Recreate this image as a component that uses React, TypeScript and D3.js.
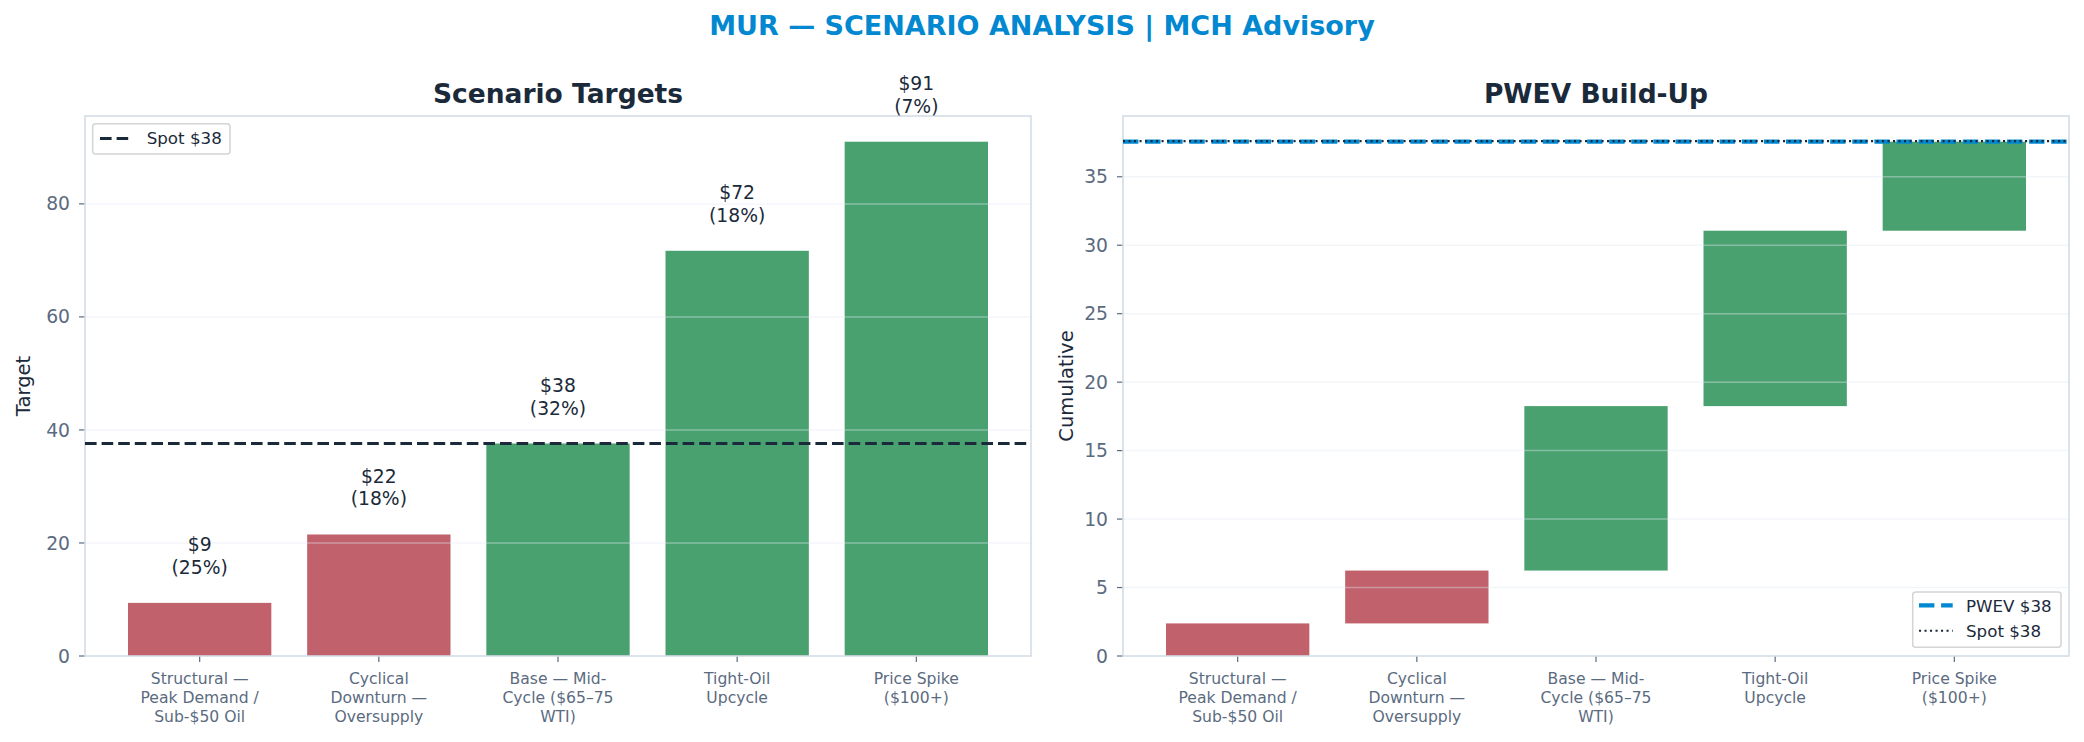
import { useEffect, useRef } from 'react';
import * as d3 from 'd3';

// scenario names, wrapped as they appear under the bars
const scenarioKeys = ['Structural', 'Cyclical', 'Base', 'Tight-Oil', 'Price Spike'];
const scenarioLines = [
  ['Structural —', 'Peak Demand /', 'Sub-$50 Oil'],
  ['Cyclical', 'Downturn —', 'Oversupply'],
  ['Base — Mid-', 'Cycle ($65–75', 'WTI)'],
  ['Tight-Oil', 'Upcycle'],
  ['Price Spike', '($100+)'],
];
const targets = [9.4, 21.5, 37.6, 71.7, 91.0];
const probabilities = [0.25, 0.18, 0.32, 0.18, 0.07];
// probability-weighted contribution of each scenario to PWEV
const contributions = [2.38, 3.86, 12.01, 12.81, 6.5];
const spot = 37.6;
const targetTicks = [0, 20, 40, 60, 80];
const cumulativeTicks = [0, 5, 10, 15, 20, 25, 30, 35];

const W = 2084, H = 742;
const RED = '#c0616b', GREEN = '#4aa170', INK = '#1b2a3a', SLATE = '#5b6b7f', SPINE = '#d5dce6', BLUE = '#0288d1';
const FONT = 'DejaVu Sans, sans-serif';

type Sel = d3.Selection<SVGGElement, unknown, null, undefined>;

function frame(g: Sel, o: { left: number; right: number; top: number; bottom: number; yMax: number; ticks: number[]; title: string; yLabel: string; yLabelX: number }) {
  const x = d3.scaleBand<string>().domain(scenarioKeys).range([o.left, o.right]).paddingInner(0.2).paddingOuter(0.24);
  const y = d3.scaleLinear().domain([0, o.yMax]).range([o.bottom, o.top]);
  g.append('text').attr('x', (o.left + o.right) / 2).attr('y', o.top - 13).attr('text-anchor', 'middle')
    .attr('font-family', FONT).attr('font-weight', 'bold').attr('font-size', 26.5).attr('fill', INK).text(o.title);
  g.append('text').attr('transform', `translate(${o.yLabelX},${(o.top + o.bottom) / 2}) rotate(-90)`).attr('text-anchor', 'middle')
    .attr('font-family', FONT).attr('font-size', 19.5).attr('fill', INK).text(o.yLabel);
  // y ticks
  const yt = g.append('g');
  yt.selectAll('line').data(o.ticks).enter().append('line')
    .attr('x1', o.left - 6).attr('x2', o.left).attr('y1', (d) => y(d)).attr('y2', (d) => y(d)).attr('stroke', SLATE).attr('stroke-width', 1.2);
  yt.selectAll('text').data(o.ticks).enter().append('text')
    .attr('x', o.left - 15).attr('y', (d) => y(d)).attr('dy', '0.35em').attr('text-anchor', 'end')
    .attr('font-family', FONT).attr('font-size', 18.75).attr('fill', SLATE).text((d) => d);
  // x ticks
  const xt = g.append('g');
  xt.selectAll('line').data(scenarioKeys).enter().append('line')
    .attr('x1', (d) => x(d)! + x.bandwidth() / 2).attr('x2', (d) => x(d)! + x.bandwidth() / 2)
    .attr('y1', o.bottom).attr('y2', o.bottom + 6).attr('stroke', SLATE).attr('stroke-width', 1.2);
  scenarioKeys.forEach((k, i) => {
    const t = xt.append('text').attr('text-anchor', 'middle').attr('font-family', FONT).attr('font-size', 15.6).attr('fill', SLATE);
    scenarioLines[i].forEach((ln, j) => t.append('tspan').attr('x', x(k)! + x.bandwidth() / 2).attr('y', o.bottom + 28 + j * 19).text(ln));
  });
  return { x, y };
}

function finish(g: Sel, o: { left: number; right: number; top: number; bottom: number; ticks: number[] }, y: d3.ScaleLinear<number, number>) {
  g.append('g').selectAll('line').data(o.ticks.filter((d) => d > 0)).enter().append('line')
    .attr('x1', o.left).attr('x2', o.right).attr('y1', (d) => y(d)).attr('y2', (d) => y(d))
    .attr('stroke', '#e2e8f0').attr('stroke-opacity', 0.4).attr('stroke-width', 1.5);
  g.append('rect').attr('x', o.left).attr('y', o.top).attr('width', o.right - o.left).attr('height', o.bottom - o.top)
    .attr('fill', 'none').attr('stroke', SPINE).attr('stroke-width', 1.6);
}

export default function App() {
  const ref = useRef<SVGSVGElement | null>(null);
  useEffect(() => {
    document.body.style.margin = '0';
    const svg = d3.select(ref.current!);
    svg.selectAll('*').remove();
    svg.append('rect').attr('width', W).attr('height', H).attr('fill', 'white');
    svg.append('text').attr('x', W / 2).attr('y', 35).attr('text-anchor', 'middle').attr('font-family', FONT)
      .attr('font-weight', 'bold').attr('font-size', 27).attr('fill', BLUE).text('MUR — SCENARIO ANALYSIS | MCH Advisory');

    // left: scenario targets
    const L = { left: 85, right: 1031, top: 116, bottom: 656, ticks: targetTicks };
    const gl = svg.append('g') as unknown as Sel;
    const { x: xl, y: yl } = frame(gl, { ...L, yMax: (d3.max(targets) ?? 1) * 1.05, title: 'Scenario Targets', yLabel: 'Target', yLabelX: 30 });
    gl.append('g').selectAll('rect').data(targets).enter().append('rect')
      .attr('x', (_, i) => xl(scenarioKeys[i])!).attr('width', xl.bandwidth())
      .attr('y', (d) => yl(d)).attr('height', (d) => yl(0) - yl(d)).attr('fill', (d) => (d < spot ? RED : GREEN));
    finish(gl, L, yl);
    targets.forEach((v, i) => {
      const t = gl.append('text').attr('text-anchor', 'middle').attr('font-family', FONT).attr('font-size', 18.75).attr('fill', INK);
      const cx = xl(scenarioKeys[i])! + xl.bandwidth() / 2;
      t.append('tspan').attr('x', cx).attr('y', yl(v) - 29 - 22.5).text(`$${d3.format('.0f')(v)}`);
      t.append('tspan').attr('x', cx).attr('y', yl(v) - 29).text(`(${d3.format('.0%')(probabilities[i])})`);
    });
    gl.append('line').attr('x1', L.left).attr('x2', L.right).attr('y1', yl(spot)).attr('y2', yl(spot))
      .attr('stroke', INK).attr('stroke-width', 3.1).attr('stroke-dasharray', '11.6 5');
    const lg = gl.append('g');
    lg.append('rect').attr('x', 92.7).attr('y', 123.7).attr('width', 137.3).attr('height', 30.3).attr('rx', 3)
      .attr('fill', 'white').attr('fill-opacity', 0.8).attr('stroke', '#d4d4d4').attr('stroke-width', 1.5);
    lg.append('line').attr('x1', 100).attr('x2', 129).attr('y1', 138.5).attr('y2', 138.5)
      .attr('stroke', INK).attr('stroke-width', 3.1).attr('stroke-dasharray', '11.6 5');
    lg.append('text').attr('x', 146.7).attr('y', 144).attr('font-family', FONT).attr('font-size', 16.7).attr('fill', INK).text(`Spot $${d3.format('.0f')(spot)}`);

    // right: PWEV waterfall
    const cum = Array.from(d3.cumsum(contributions));
    const pwev = d3.sum(contributions);
    const R = { left: 1123, right: 2069, top: 116, bottom: 656, ticks: cumulativeTicks };
    const gr = svg.append('g') as unknown as Sel;
    const { x: xr, y: yr } = frame(gr, { ...R, yMax: pwev * 1.05, title: 'PWEV Build-Up', yLabel: 'Cumulative', yLabelX: 1073 });
    gr.append('g').selectAll('rect').data(contributions).enter().append('rect')
      .attr('x', (_, i) => xr(scenarioKeys[i])!).attr('width', xr.bandwidth())
      .attr('y', (_, i) => yr(cum[i])).attr('height', (d, i) => yr(cum[i] - d) - yr(cum[i]))
      .attr('fill', (_, i) => (targets[i] < spot ? RED : GREEN));
    finish(gr, R, yr);
    gr.append('line').attr('x1', R.left).attr('x2', R.right).attr('y1', yr(pwev)).attr('y2', yr(pwev))
      .attr('stroke', BLUE).attr('stroke-width', 4.2).attr('stroke-dasharray', '15.4 6.7');
    gr.append('line').attr('x1', R.left).attr('x2', R.right).attr('y1', yr(spot)).attr('y2', yr(spot))
      .attr('stroke', INK).attr('stroke-width', 2.1).attr('stroke-dasharray', '2.1 3.4');
    const rg = gr.append('g');
    rg.append('rect').attr('x', 1912.7).attr('y', 592).attr('width', 148.3).attr('height', 55.3).attr('rx', 3)
      .attr('fill', 'white').attr('fill-opacity', 0.8).attr('stroke', '#d4d4d4').attr('stroke-width', 1.5);
    rg.append('line').attr('x1', 1919).attr('x2', 1952.7).attr('y1', 605.3).attr('y2', 605.3)
      .attr('stroke', BLUE).attr('stroke-width', 4.2).attr('stroke-dasharray', '15.4 6.7');
    rg.append('line').attr('x1', 1919).attr('x2', 1952.7).attr('y1', 630.7).attr('y2', 630.7)
      .attr('stroke', INK).attr('stroke-width', 2.1).attr('stroke-dasharray', '2.1 3.4');
    rg.append('text').attr('x', 1966).attr('y', 611.7).attr('font-family', FONT).attr('font-size', 16.7).attr('fill', INK).text(`PWEV $${d3.format('.0f')(pwev)}`);
    rg.append('text').attr('x', 1966).attr('y', 636.7).attr('font-family', FONT).attr('font-size', 16.7).attr('fill', INK).text(`Spot $${d3.format('.0f')(spot)}`);
  }, []);
  return <svg ref={ref} width={W} height={H} style={{ display: 'block' }} />;
}
